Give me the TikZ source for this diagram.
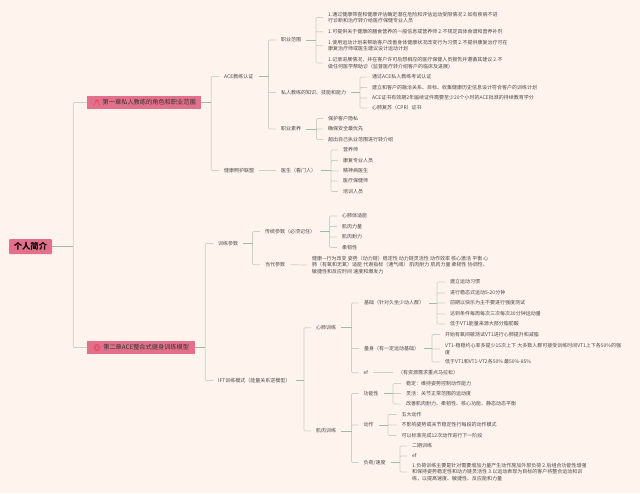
\documentclass[tikz,border=0pt]{standalone}
\usepackage{fontspec}
\setmainfont{Noto Sans CJK SC}
\definecolor{bgc}{HTML}{FFF3EE}
\definecolor{boxc}{HTML}{E2708A}
\definecolor{iconc}{HTML}{EE3F60}
\definecolor{stubc}{HTML}{9DBDA7}
\definecolor{busc}{HTML}{C6D2C6}
\definecolor{txtc}{HTML}{4A4A4A}
\tikzset{
  leaf/.style={anchor=west,inner xsep=5pt,inner ysep=1pt,align=left,text=txtc,font=\fontsize{5}{6.7}\selectfont},
  chapter/.style={anchor=west,fill=boxc,inner xsep=0pt,inner ysep=0pt,minimum height=13pt,align=left,text=black!80,font=\fontsize{6.2}{7}\selectfont},
  rootbox/.style={anchor=center,fill=boxc,rounded corners=1pt,minimum width=43pt,minimum height=15pt,inner sep=0pt,text=black,font=\fontsize{8.3}{9}\selectfont\bfseries},
  stub/.style={stubc,line width=0.7pt},
  branch/.style={busc,line width=0.7pt,rounded corners=1pt},
  iconline/.style={iconc,line width=0.6pt,line cap=round,line join=round},
}
\newcommand{\fork}[3]{%
  \coordinate (bt) at (#2,0);
  \draw[branch] foreach \cc in {#3} {(#1.east -| bt) |- (\cc.west)};
  \draw[stub] (#1.east) -- (#1.east -| bt);
}
\begin{document}
\begin{tikzpicture}[x=1pt,y=-1pt]
\useasboundingbox[fill=bgc] (0,0) rectangle (640,493);
% root and chapters
\node[rootbox] (root) at (30.5,246.5) {个人简介};
\node[chapter,minimum width=114pt] (ch1) at (87,102.5) {\hspace*{15pt}第一章私人教练的角色和职业范围\hspace*{5pt}};
\node[chapter,minimum width=108pt] (ch2) at (87,347.5) {\hspace*{15pt}第二章ACE整合式健身训练模型\hspace*{5pt}};
% chapter icons
\draw[iconline] (96.8,100) -- (93.8,105.5) (96.8,100) -- (99.8,105.5) (95.3,100.5) -- (98.3,100.5);
\draw[iconline,line width=0.5pt] (97,347.5) circle (3.2pt);
\draw[iconline,line width=0.5pt] (95,347.5) -- (97,345.6) -- (99,347.5) (95.6,347.2) -- (95.6,349.4) -- (98.4,349.4) -- (98.4,347.2);
% level 2
\node[leaf] (ace) at (219,76.5) {ACE教练认证};
\node[leaf] (hc) at (219,170.5) {健康照护联盟};
\node[leaf] (tp) at (213,243.5) {训练参数};
\node[leaf] (ift) at (213,380.5) {IFT训练模式（能量关系逆模型）};
% ACE
\node[leaf] (zyfw) at (276,40) {职业范围};
\node[leaf] (zsjn) at (276,92.5) {私人教练的知识、技能和能力};
\node[leaf] (zysy) at (276,129) {职业素养};
\node[leaf] (doc) at (276,170.5) {医生（看门人）};
\node[leaf] (a1) at (323,17.5) {1.通过健康筛查和健康评估确定潜在危险和评估运动受限情况 2.如有疾病不进\\行诊断和治疗转介给医疗保健专业人员};
\node[leaf] (a2) at (323,31.7) {1.可提供关于健康的膳食营养的一般信息或营养师 2.不规定具体食谱和营养补剂};
\node[leaf] (a3) at (323,45.7) {1.使用运动计划来帮助客户改善身体健康状况改变行为习惯 2.不提供康复治疗可在\\康复治疗师或医生建议设计运动计划};
\node[leaf] (a4) at (323,63) {1.记录进展情况，并在客户许可后想相应的医疗保健人员报告并遵循其建议 2.不\\做任何医学帮助诊（监督医疗转介绍客户的临床及进展）};
\node[leaf] (b1) at (367,77) {通过ACE私人教练考试认证};
\node[leaf] (b2) at (367,87.5) {建立和客户的融洽关系、目标、收集健康历史信息设计符合客户的训练计划};
\node[leaf] (b3) at (367,98) {ACE证书有效期2年届续证件需要至少20个小时的ACE批准的持续教育学分};
\node[leaf] (b4) at (367,108) {心肺复苏（CPR）证书};
\node[leaf] (c1) at (323,118.5) {保护客户隐私};
\node[leaf] (c2) at (323,129) {确保安全最优先};
\node[leaf] (c3) at (323,139.5) {超出自己执业范围进行转介绍};
\node[leaf] (d1) at (338,150) {营养师};
\node[leaf] (d2) at (338,160.5) {康复专业人员};
\node[leaf] (d3) at (338,171) {精神病医生};
\node[leaf] (d4) at (338,181) {医疗保健师};
\node[leaf] (d5) at (338,191.5) {培训人员};
% training parameters
\node[leaf] (ctcs) at (260,231.5) {传统参数（必须记住）};
\node[leaf] (ddcs) at (260,264.7) {当代参数};
\node[leaf] (e1) at (337,216) {心肺体适能};
\node[leaf] (e2) at (337,226.5) {肌肉力量};
\node[leaf] (e3) at (337,237) {肌肉耐力};
\node[leaf] (e4) at (337,247.5) {柔韧性};
\node[leaf] (f1) at (307,265) {健康—行为改变 姿势（动力链）稳定性 动力链灵活性 动作效率 核心激活 平衡 心\\肺（有氧和无氧）适能 代谢指标（通气阈） 肌肉耐力 肌肉力量 柔韧性 协调性、\\敏捷性和反应时间 速度和爆发力};
% IFT
\node[leaf] (xf) at (311,327.7) {心肺训练};
\node[leaf] (jr) at (311,431) {肌肉训练};
\node[leaf] (jc) at (359,303) {基础（针对久坐少动人群）};
\node[leaf] (ls) at (359,348.5) {量身（有一定运动基础）};
\node[leaf] (ef1) at (358.5,372.7) {ef};
\node[leaf] (g1) at (445,282) {建立运动习惯};
\node[leaf] (g2) at (445,293) {进行稳态式运动5-20分钟};
\node[leaf] (g3) at (445,303) {前期以快乐为主不要进行强度测试};
\node[leaf] (g4) at (445,314) {达到条件每周每次三次每次30分钟运动量};
\node[leaf] (g5) at (445,324) {低于VT1能量来源大部分脂肪酸};
\node[leaf] (h1) at (440,334.5) {开始有氧间歇测试VT1进行心肺提升和减脂};
\node[leaf] (h2) at (440,349) {VT1-稳稳约心率多提少15次上下 大多数人群可接受训练时间VT1上下各50\%的强\\度};
\node[leaf] (h3) at (440,362) {低于VT1和VT1-VT2各50\% 最50\%-85\%};
\node[leaf] (i1) at (393,372.7) {（有资源需求重点马拉松）};
\node[leaf] (gn) at (358.5,393.5) {功能性};
\node[leaf] (dz) at (358.5,425) {动作};
\node[leaf] (fh) at (358.5,462.5) {负荷/速度};
\node[leaf] (j1) at (401,383.5) {稳定：维持姿势控制动作能力};
\node[leaf] (j2) at (401,393.5) {灵活：关节正常范围的运动度};
\node[leaf] (j3) at (401,404) {改善肌肉耐力、柔韧性、核心功能、静态动态平衡};
\node[leaf] (k1) at (396.5,414.5) {五大动作};
\node[leaf] (k2) at (396.5,425) {不影响姿势或关节稳定性行每段的动作模式};
\node[leaf] (k3) at (396.5,435.5) {可以标准完成12次动作进行下一阶段};
\node[leaf] (l1) at (407,446) {二期训练};
\node[leaf] (l2) at (407,456) {ef};
\node[leaf] (l3) at (407,472) {1.负荷训练主要是针对需要增加力量产生动作施加外部负荷 2.后组合功能性增强\\和保持姿势稳定性和动力链灵活性 3.以运动表现为目标的客户将整合运动和训\\练，以提高速度、敏捷性、反应能和力量};
% connectors
\fork{root}{73.3}{ch1,ch2}
\fork{ch1}{211.3}{ace,hc}
\fork{ch2}{205.3}{tp,ift}
\fork{ace}{268.5}{zyfw,zsjn,zysy}
\draw[branch] (hc.east) -- (doc.west);
\fork{zyfw}{316}{a1,a2,a3,a4}
\fork{zsjn}{360}{b1,b2,b3,b4}
\fork{zysy}{316.5}{c1,c2,c3}
\fork{doc}{331}{d1,d2,d3,d4,d5}
\fork{tp}{252.5}{ctcs,ddcs}
\fork{ctcs}{329.5}{e1,e2,e3,e4}
\draw[branch] (ddcs.east) -- (f1.west);
\fork{ift}{304}{xf,jr}
\fork{xf}{351.5}{jc,ls,ef1}
\fork{jr}{351.5}{gn,dz,fh}
\fork{jc}{437}{g1,g2,g3,g4,g5}
\fork{ls}{432}{h1,h2,h3}
\draw[branch] (ef1.east) -- (i1.west);
\fork{gn}{393}{j1,j2,j3}
\fork{dz}{388}{k1,k2,k3}
\fork{fh}{400}{l1,l2,l3}
\end{tikzpicture}
\end{document}
